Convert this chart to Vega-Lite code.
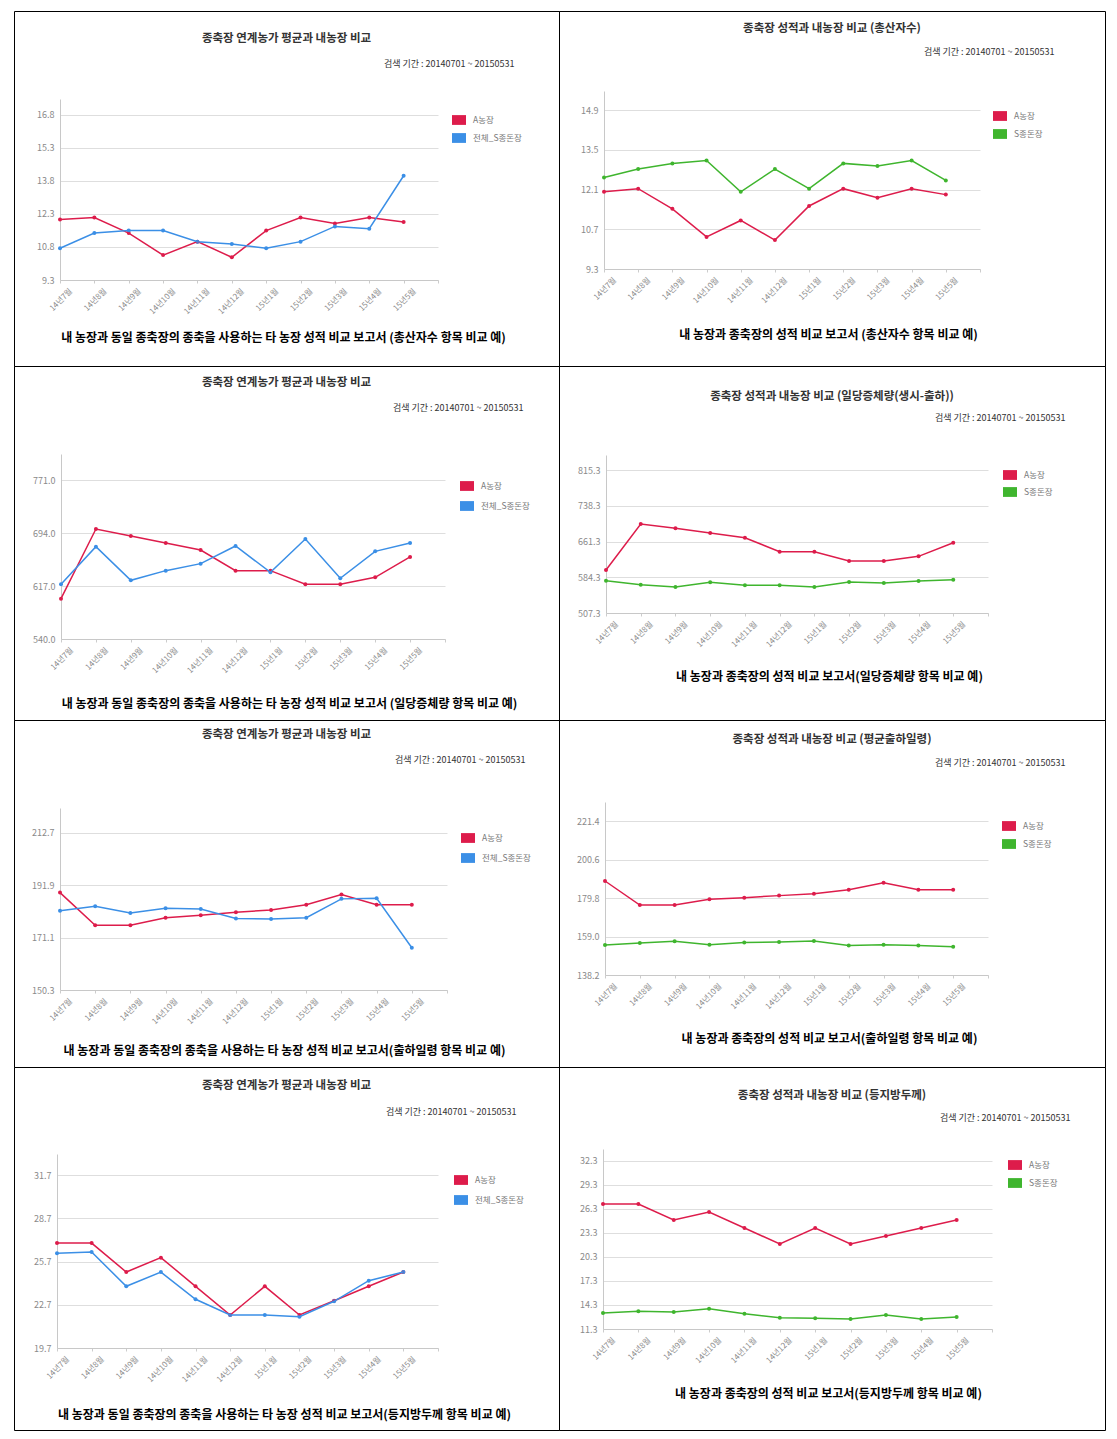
{
"$schema": "https://vega.github.io/schema/vega-lite/v6.json",
"padding": {"left": 13, "top": 10, "right": 0, "bottom": 0},
"background": "white",
"bounds": "flush",
"spacing": 0,
"columns": 2,
"resolve": {"scale": {"color": "independent", "x": "independent", "y": "independent"}, "legend": {"color": "independent"}},
"config": {
  "font": "Noto Sans CJK KR",
  "view": {"stroke": "#000000", "strokeWidth": 1},
  "title": {"fontSize": 11.5, "fontWeight": "bold", "color": "#333333", "anchor": "middle", "frame": "group"},
  "axis": {"domainColor": "#c8c8c8", "gridColor": "#dedede", "labelColor": "#8a8a8a", "labelFont": "Noto Sans CJK KR", "titleFont": "Noto Sans CJK KR"},
  "axisX": {"labelAngle": -45, "labelFontSize": 8, "labelOffset": 8, "labelPadding": 4, "tickColor": "#cccccc", "tickSize": 3, "grid": false, "labelOverlap": false, "titleFontSize": 12, "titleFontWeight": "bold", "titleColor": "#000000", "titleAngle": 0, "titleAlign": "center", "titleBaseline": "middle"},
  "axisY": {"labelFontSize": 9, "ticks": false, "labelPadding": 6, "titleFontSize": 9, "titleFontWeight": "normal", "titleColor": "#333333", "titleAngle": 0, "titleAlign": "right", "titleBaseline": "middle"},
  "legend": {"symbolType": "M-1,-0.7H1V0.7H-1Z", "symbolSize": 196, "symbolStrokeWidth": 0, "labelFontSize": 8.5, "labelColor": "#777777", "labelOffset": 7, "padding": 0}
},
"datasets": {
  "p1": [
    {"m":"14년7월","s":"A농장","v":12.04},{"m":"14년8월","s":"A농장","v":12.13},{"m":"14년9월","s":"A농장","v":11.43},{"m":"14년10월","s":"A농장","v":10.43},{"m":"14년11월","s":"A농장","v":11.04},{"m":"14년12월","s":"A농장","v":10.33},{"m":"15년1월","s":"A농장","v":11.54},{"m":"15년2월","s":"A농장","v":12.13},{"m":"15년3월","s":"A농장","v":11.86},{"m":"15년4월","s":"A농장","v":12.13},{"m":"15년5월","s":"A농장","v":11.93},
    {"m":"14년7월","s":"전체_S종돈장","v":10.74},{"m":"14년8월","s":"전체_S종돈장","v":11.43},{"m":"14년9월","s":"전체_S종돈장","v":11.54},{"m":"14년10월","s":"전체_S종돈장","v":11.54},{"m":"14년11월","s":"전체_S종돈장","v":11.04},{"m":"14년12월","s":"전체_S종돈장","v":10.93},{"m":"15년1월","s":"전체_S종돈장","v":10.74},{"m":"15년2월","s":"전체_S종돈장","v":11.04},{"m":"15년3월","s":"전체_S종돈장","v":11.73},{"m":"15년4월","s":"전체_S종돈장","v":11.63},{"m":"15년5월","s":"전체_S종돈장","v":14.03}
  ],
  "p2": [
    {"m":"14년7월","s":"A농장","v":12.02},{"m":"14년8월","s":"A농장","v":12.13},{"m":"14년9월","s":"A농장","v":11.42},{"m":"14년10월","s":"A농장","v":10.43},{"m":"14년11월","s":"A농장","v":11.01},{"m":"14년12월","s":"A농장","v":10.32},{"m":"15년1월","s":"A농장","v":11.52},{"m":"15년2월","s":"A농장","v":12.13},{"m":"15년3월","s":"A농장","v":11.81},{"m":"15년4월","s":"A농장","v":12.13},{"m":"15년5월","s":"A농장","v":11.92},
    {"m":"14년7월","s":"S종돈장","v":12.52},{"m":"14년8월","s":"S종돈장","v":12.82},{"m":"14년9월","s":"S종돈장","v":13.02},{"m":"14년10월","s":"S종돈장","v":13.12},{"m":"14년11월","s":"S종돈장","v":12.02},{"m":"14년12월","s":"S종돈장","v":12.82},{"m":"15년1월","s":"S종돈장","v":12.13},{"m":"15년2월","s":"S종돈장","v":13.02},{"m":"15년3월","s":"S종돈장","v":12.93},{"m":"15년4월","s":"S종돈장","v":13.12},{"m":"15년5월","s":"S종돈장","v":12.42}
  ],
  "p3": [
    {"m":"14년7월","s":"A농장","v":598.7},{"m":"14년8월","s":"A농장","v":700.1},{"m":"14년9월","s":"A농장","v":689.9},{"m":"14년10월","s":"A농장","v":679.7},{"m":"14년11월","s":"A농장","v":669.5},{"m":"14년12월","s":"A농장","v":639.5},{"m":"15년1월","s":"A농장","v":639.5},{"m":"15년2월","s":"A농장","v":619.6},{"m":"15년3월","s":"A농장","v":619.6},{"m":"15년4월","s":"A농장","v":629.8},{"m":"15년5월","s":"A농장","v":659.4},
    {"m":"14년7월","s":"전체_S종돈장","v":619.6},{"m":"14년8월","s":"전체_S종돈장","v":674.4},{"m":"14년9월","s":"전체_S종돈장","v":625.4},{"m":"14년10월","s":"전체_S종돈장","v":639.5},{"m":"14년11월","s":"전체_S종돈장","v":649.7},{"m":"14년12월","s":"전체_S종돈장","v":675.4},{"m":"15년1월","s":"전체_S종돈장","v":637.0},{"m":"15년2월","s":"전체_S종돈장","v":685.6},{"m":"15년3월","s":"전체_S종돈장","v":628.3},{"m":"15년4월","s":"전체_S종돈장","v":667.6},{"m":"15년5월","s":"전체_S종돈장","v":679.7}
  ],
  "p4": [
    {"m":"14년7월","s":"A농장","v":600.1},{"m":"14년8월","s":"A농장","v":699.4},{"m":"14년9월","s":"A농장","v":690.1},{"m":"14년10월","s":"A농장","v":680.0},{"m":"14년11월","s":"A농장","v":669.9},{"m":"14년12월","s":"A농장","v":639.7},{"m":"15년1월","s":"A농장","v":639.7},{"m":"15년2월","s":"A농장","v":619.6},{"m":"15년3월","s":"A농장","v":619.6},{"m":"15년4월","s":"A농장","v":629.6},{"m":"15년5월","s":"A농장","v":659.1},
    {"m":"14년7월","s":"S종돈장","v":577.1},{"m":"14년8월","s":"S종돈장","v":568.5},{"m":"14년9월","s":"S종돈장","v":563.4},{"m":"14년10월","s":"S종돈장","v":573.5},{"m":"14년11월","s":"S종돈장","v":567.0},{"m":"14년12월","s":"S종돈장","v":567.0},{"m":"15년1월","s":"S종돈장","v":563.4},{"m":"15년2월","s":"S종돈장","v":574.2},{"m":"15년3월","s":"S종돈장","v":572.1},{"m":"15년4월","s":"S종돈장","v":576.4},{"m":"15년5월","s":"S종돈장","v":579.3}
  ],
  "p5": [
    {"m":"14년7월","s":"A농장","v":189.0},{"m":"14년8월","s":"A농장","v":176.0},{"m":"14년9월","s":"A농장","v":176.0},{"m":"14년10월","s":"A농장","v":179.0},{"m":"14년11월","s":"A농장","v":180.0},{"m":"14년12월","s":"A농장","v":181.2},{"m":"15년1월","s":"A농장","v":182.1},{"m":"15년2월","s":"A농장","v":184.2},{"m":"15년3월","s":"A농장","v":188.2},{"m":"15년4월","s":"A농장","v":184.2},{"m":"15년5월","s":"A농장","v":184.2},
    {"m":"14년7월","s":"전체_S종돈장","v":181.8},{"m":"14년8월","s":"전체_S종돈장","v":183.6},{"m":"14년9월","s":"전체_S종돈장","v":180.9},{"m":"14년10월","s":"전체_S종돈장","v":182.8},{"m":"14년11월","s":"전체_S종돈장","v":182.5},{"m":"14년12월","s":"전체_S종돈장","v":178.7},{"m":"15년1월","s":"전체_S종돈장","v":178.5},{"m":"15년2월","s":"전체_S종돈장","v":179.0},{"m":"15년3월","s":"전체_S종돈장","v":186.5},{"m":"15년4월","s":"전체_S종돈장","v":186.7},{"m":"15년5월","s":"전체_S종돈장","v":167.1}
  ],
  "p6": [
    {"m":"14년7월","s":"A농장","v":189.0},{"m":"14년8월","s":"A농장","v":176.0},{"m":"14년9월","s":"A농장","v":176.0},{"m":"14년10월","s":"A농장","v":179.1},{"m":"14년11월","s":"A농장","v":180.0},{"m":"14년12월","s":"A농장","v":181.1},{"m":"15년1월","s":"A농장","v":182.1},{"m":"15년2월","s":"A농장","v":184.3},{"m":"15년3월","s":"A농장","v":188.1},{"m":"15년4월","s":"A농장","v":184.3},{"m":"15년5월","s":"A농장","v":184.3},
    {"m":"14년7월","s":"S종돈장","v":154.4},{"m":"14년8월","s":"S종돈장","v":155.5},{"m":"14년9월","s":"S종돈장","v":156.4},{"m":"14년10월","s":"S종돈장","v":154.6},{"m":"14년11월","s":"S종돈장","v":155.8},{"m":"14년12월","s":"S종돈장","v":156.0},{"m":"15년1월","s":"S종돈장","v":156.6},{"m":"15년2월","s":"S종돈장","v":154.2},{"m":"15년3월","s":"S종돈장","v":154.6},{"m":"15년4월","s":"S종돈장","v":154.2},{"m":"15년5월","s":"S종돈장","v":153.5}
  ],
  "p7": [
    {"m":"14년7월","s":"A농장","v":26.98},{"m":"14년8월","s":"A농장","v":26.98},{"m":"14년9월","s":"A농장","v":24.97},{"m":"14년10월","s":"A농장","v":25.97},{"m":"14년11월","s":"A농장","v":23.98},{"m":"14년12월","s":"A농장","v":21.99},{"m":"15년1월","s":"A농장","v":23.98},{"m":"15년2월","s":"A농장","v":21.99},{"m":"15년3월","s":"A농장","v":22.98},{"m":"15년4월","s":"A농장","v":23.98},{"m":"15년5월","s":"A농장","v":24.97},
    {"m":"14년7월","s":"전체_S종돈장","v":26.27},{"m":"14년8월","s":"전체_S종돈장","v":26.36},{"m":"14년9월","s":"전체_S종돈장","v":23.98},{"m":"14년10월","s":"전체_S종돈장","v":24.97},{"m":"14년11월","s":"전체_S종돈장","v":23.08},{"m":"14년12월","s":"전체_S종돈장","v":21.99},{"m":"15년1월","s":"전체_S종돈장","v":21.99},{"m":"15년2월","s":"전체_S종돈장","v":21.87},{"m":"15년3월","s":"전체_S종돈장","v":22.94},{"m":"15년4월","s":"전체_S종돈장","v":24.37},{"m":"15년5월","s":"전체_S종돈장","v":24.97}
  ],
  "p8": [
    {"m":"14년7월","s":"A농장","v":26.89},{"m":"14년8월","s":"A농장","v":26.89},{"m":"14년9월","s":"A농장","v":24.9},{"m":"14년10월","s":"A농장","v":25.89},{"m":"14년11월","s":"A농장","v":23.9},{"m":"14년12월","s":"A농장","v":21.9},{"m":"15년1월","s":"A농장","v":23.9},{"m":"15년2월","s":"A농장","v":21.9},{"m":"15년3월","s":"A농장","v":22.9},{"m":"15년4월","s":"A농장","v":23.9},{"m":"15년5월","s":"A농장","v":24.9},
    {"m":"14년7월","s":"S종돈장","v":13.3},{"m":"14년8월","s":"S종돈장","v":13.5},{"m":"14년9월","s":"S종돈장","v":13.42},{"m":"14년10월","s":"S종돈장","v":13.84},{"m":"14년11월","s":"S종돈장","v":13.21},{"m":"14년12월","s":"S종돈장","v":12.71},{"m":"15년1월","s":"S종돈장","v":12.63},{"m":"15년2월","s":"S종돈장","v":12.55},{"m":"15년3월","s":"S종돈장","v":13.05},{"m":"15년4월","s":"S종돈장","v":12.55},{"m":"15년5월","s":"S종돈장","v":12.8}
  ]
},
"concat": [
  {"width": 545, "height": 355, "data": {"name": "p1"},
   "title": {"text": "종축장 연계농가 평균과 내농장 비교", "offset": -33},
   "encoding": {
     "x": {"field": "m", "type": "ordinal", "sort": null, "scale": {"type": "point", "domain": ["14년7월","14년8월","14년9월","14년10월","14년11월","14년12월","15년1월","15년2월","15년3월","15년4월","15년5월"," "], "range": [46, 424], "padding": 0},
       "axis": {"offset": -86, "title": "내 농장과 동일 종축장의 종축을 사용하는 타 농장 성적 비교 보고서 (총산자수 항목 비교 예)", "titleX": 269, "titleY": 57}},
     "y": {"field": "v", "type": "quantitative", "scale": {"domain": [9.3, 17.51], "range": [269, 88], "zero": false, "nice": false},
       "axis": {"offset": -46, "values": [9.3, 10.8, 12.3, 13.8, 15.3, 16.8], "format": ".1f", "title": "검색 기간 : 20140701 ~ 20150531", "titleX": 454, "titleY": 52}},
     "color": {"field": "s", "type": "nominal", "scale": {"domain": ["A농장", "전체_S종돈장"], "range": ["#dd1c4b", "#3b8fe6"]}, "legend": {"title": null, "orient": "none", "legendX": 438, "legendY": 102, "rowPadding": 6}},
     "order": {"value": null}},
   "layer": [
     {"mark": {"type": "point", "filled": true, "size": 16, "opacity": 1}},
     {"mark": {"type": "line", "strokeWidth": 1.5}}
   ]},
  {"width": 546, "height": 355, "data": {"name": "p2"},
   "title": {"text": "종축장 성적과 내농장 비교 (총산자수)", "offset": -23},
   "encoding": {
     "x": {"field": "m", "type": "ordinal", "sort": null, "scale": {"type": "point", "domain": ["14년7월","14년8월","14년9월","14년10월","14년11월","14년12월","15년1월","15년2월","15년3월","15년4월","15년5월"," "], "range": [45, 421], "padding": 0},
       "axis": {"offset": -97, "title": "내 농장과 종축장의 성적 비교 보고서 (총산자수 항목 비교 예)", "titleX": 269, "titleY": 65}},
     "y": {"field": "v", "type": "quantitative", "scale": {"domain": [9.3, 15.57], "range": [258, 80], "zero": false, "nice": false},
       "axis": {"offset": -45, "values": [9.3, 10.7, 12.1, 13.5, 14.9], "format": ".1f", "title": "검색 기간 : 20140701 ~ 20150531", "titleX": 450, "titleY": 40}},
     "color": {"field": "s", "type": "nominal", "scale": {"domain": ["A농장", "S종돈장"], "range": ["#dd1c4b", "#3fb52e"]}, "legend": {"title": null, "orient": "none", "legendX": 434, "legendY": 98, "rowPadding": 6}},
     "order": {"value": null}},
   "layer": [
     {"mark": {"type": "point", "filled": true, "size": 16, "opacity": 1}},
     {"mark": {"type": "line", "strokeWidth": 1.5}}
   ]},
  {"width": 545, "height": 354, "data": {"name": "p3"},
   "title": {"text": "종축장 연계농가 평균과 내농장 비교", "offset": -22},
   "encoding": {
     "x": {"field": "m", "type": "ordinal", "sort": null, "scale": {"type": "point", "domain": ["14년7월","14년8월","14년9월","14년10월","14년11월","14년12월","15년1월","15년2월","15년3월","15년4월","15년5월"," "], "range": [47, 431], "padding": 0},
       "axis": {"offset": -81, "title": "내 농장과 동일 종축장의 종축을 사용하는 타 농장 성적 비교 보고서 (일당증체량 항목 비교 예)", "titleX": 275, "titleY": 64}},
     "y": {"field": "v", "type": "quantitative", "scale": {"domain": [540, 809.3], "range": [273, 88], "zero": false, "nice": false},
       "axis": {"offset": -47, "values": [540, 617, 694, 771], "format": ".1f", "title": "검색 기간 : 20140701 ~ 20150531", "titleX": 462, "titleY": 41}},
     "color": {"field": "s", "type": "nominal", "scale": {"domain": ["A농장", "전체_S종돈장"], "range": ["#dd1c4b", "#3b8fe6"]}, "legend": {"title": null, "orient": "none", "legendX": 446, "legendY": 113, "rowPadding": 8}},
     "order": {"value": null}},
   "layer": [
     {"mark": {"type": "point", "filled": true, "size": 16, "opacity": 1}},
     {"mark": {"type": "line", "strokeWidth": 1.5}}
   ]},
  {"width": 546, "height": 354, "data": {"name": "p4"},
   "title": {"text": "종축장 성적과 내농장 비교 (일당증체량(생시-출하))", "offset": -36},
   "encoding": {
     "x": {"field": "m", "type": "ordinal", "sort": null, "scale": {"type": "point", "domain": ["14년7월","14년8월","14년9월","14년10월","14년11월","14년12월","15년1월","15년2월","15년3월","15년4월","15년5월"," "], "range": [47, 429], "padding": 0},
       "axis": {"offset": -107, "title": "내 농장과 종축장의 성적 비교 보고서(일당증체량 항목 비교 예)", "titleX": 270, "titleY": 63}},
     "y": {"field": "v", "type": "quantitative", "scale": {"domain": [507.3, 848.4], "range": [247, 89], "zero": false, "nice": false},
       "axis": {"offset": -47, "values": [507.3, 584.3, 661.3, 738.3, 815.3], "format": ".1f", "title": "검색 기간 : 20140701 ~ 20150531", "titleX": 459, "titleY": 51}},
     "color": {"field": "s", "type": "nominal", "scale": {"domain": ["A농장", "S종돈장"], "range": ["#dd1c4b", "#3fb52e"]}, "legend": {"title": null, "orient": "none", "legendX": 444, "legendY": 102, "rowPadding": 5}},
     "order": {"value": null}},
   "layer": [
     {"mark": {"type": "point", "filled": true, "size": 16, "opacity": 1}},
     {"mark": {"type": "line", "strokeWidth": 1.5}}
   ]},
  {"width": 545, "height": 347, "data": {"name": "p5"},
   "title": {"text": "종축장 연계농가 평균과 내농장 비교", "offset": -20},
   "encoding": {
     "x": {"field": "m", "type": "ordinal", "sort": null, "scale": {"type": "point", "domain": ["14년7월","14년8월","14년9월","14년10월","14년11월","14년12월","15년1월","15년2월","15년3월","15년4월","15년5월"," "], "range": [46, 433], "padding": 0},
       "axis": {"offset": -77, "title": "내 농장과 동일 종축장의 종축을 사용하는 타 농장 성적 비교 보고서(출하일령 항목 비교 예)", "titleX": 270, "titleY": 60}},
     "y": {"field": "v", "type": "quantitative", "scale": {"domain": [150.3, 222.6], "range": [270, 88], "zero": false, "nice": false},
       "axis": {"offset": -46, "values": [150.3, 171.1, 191.9, 212.7], "format": ".1f", "title": "검색 기간 : 20140701 ~ 20150531", "titleX": 465, "titleY": 39}},
     "color": {"field": "s", "type": "nominal", "scale": {"domain": ["A농장", "전체_S종돈장"], "range": ["#dd1c4b", "#3b8fe6"]}, "legend": {"title": null, "orient": "none", "legendX": 447, "legendY": 111, "rowPadding": 8}},
     "order": {"value": null}},
   "layer": [
     {"mark": {"type": "point", "filled": true, "size": 16, "opacity": 1}},
     {"mark": {"type": "line", "strokeWidth": 1.5}}
   ]},
  {"width": 546, "height": 347, "data": {"name": "p6"},
   "title": {"text": "종축장 성적과 내농장 비교 (평균출하일령)", "offset": -25},
   "encoding": {
     "x": {"field": "m", "type": "ordinal", "sort": null, "scale": {"type": "point", "domain": ["14년7월","14년8월","14년9월","14년10월","14년11월","14년12월","15년1월","15년2월","15년3월","15년4월","15년5월"," "], "range": [46, 429], "padding": 0},
       "axis": {"offset": -92, "title": "내 농장과 종축장의 성적 비교 보고서(출하일령 항목 비교 예)", "titleX": 270, "titleY": 63}},
     "y": {"field": "v", "type": "quantitative", "scale": {"domain": [138.2, 231.7], "range": [255, 82], "zero": false, "nice": false},
       "axis": {"offset": -46, "values": [138.2, 159.0, 179.8, 200.6, 221.4], "format": ".1f", "title": "검색 기간 : 20140701 ~ 20150531", "titleX": 460, "titleY": 42}},
     "color": {"field": "s", "type": "nominal", "scale": {"domain": ["A농장", "S종돈장"], "range": ["#dd1c4b", "#3fb52e"]}, "legend": {"title": null, "orient": "none", "legendX": 443, "legendY": 99, "rowPadding": 6}},
     "order": {"value": null}},
   "layer": [
     {"mark": {"type": "point", "filled": true, "size": 16, "opacity": 1}},
     {"mark": {"type": "line", "strokeWidth": 1.5}}
   ]},
  {"width": 545, "height": 363, "data": {"name": "p7"},
   "title": {"text": "종축장 연계농가 평균과 내농장 비교", "offset": -24},
   "encoding": {
     "x": {"field": "m", "type": "ordinal", "sort": null, "scale": {"type": "point", "domain": ["14년7월","14년8월","14년9월","14년10월","14년11월","14년12월","15년1월","15년2월","15년3월","15년4월","15년5월"," "], "range": [43, 424], "padding": 0},
       "axis": {"offset": -82, "title": "내 농장과 동일 종축장의 종축을 사용하는 타 농장 성적 비교 보고서(등지방두께 항목 비교 예)", "titleX": 270, "titleY": 66}},
     "y": {"field": "v", "type": "quantitative", "scale": {"domain": [19.7, 33.16], "range": [281, 87], "zero": false, "nice": false},
       "axis": {"offset": -43, "values": [19.7, 22.7, 25.7, 28.7, 31.7], "format": ".1f", "title": "검색 기간 : 20140701 ~ 20150531", "titleX": 459, "titleY": 44}},
     "color": {"field": "s", "type": "nominal", "scale": {"domain": ["A농장", "전체_S종돈장"], "range": ["#dd1c4b", "#3b8fe6"]}, "legend": {"title": null, "orient": "none", "legendX": 440, "legendY": 106, "rowPadding": 8}},
     "order": {"value": null}},
   "layer": [
     {"mark": {"type": "point", "filled": true, "size": 16, "opacity": 1}},
     {"mark": {"type": "line", "strokeWidth": 1.5}}
   ]},
  {"width": 546, "height": 363, "data": {"name": "p8"},
   "title": {"text": "종축장 성적과 내농장 비교 (등지방두께)", "offset": -34},
   "encoding": {
     "x": {"field": "m", "type": "ordinal", "sort": null, "scale": {"type": "point", "domain": ["14년7월","14년8월","14년9월","14년10월","14년11월","14년12월","15년1월","15년2월","15년3월","15년4월","15년5월"," "], "range": [44, 433], "padding": 0},
       "axis": {"offset": -101, "title": "내 농장과 종축장의 성적 비교 보고서(등지방두께 항목 비교 예)", "titleX": 269, "titleY": 64}},
     "y": {"field": "v", "type": "quantitative", "scale": {"domain": [11.3, 33.75], "range": [262, 82], "zero": false, "nice": false},
       "axis": {"offset": -44, "values": [11.3, 14.3, 17.3, 20.3, 23.3, 26.3, 29.3, 32.3], "format": ".1f", "title": "검색 기간 : 20140701 ~ 20150531", "titleX": 467, "titleY": 50}},
     "color": {"field": "s", "type": "nominal", "scale": {"domain": ["A농장", "S종돈장"], "range": ["#dd1c4b", "#3fb52e"]}, "legend": {"title": null, "orient": "none", "legendX": 449, "legendY": 91, "rowPadding": 6}},
     "order": {"value": null}},
   "layer": [
     {"mark": {"type": "point", "filled": true, "size": 16, "opacity": 1}},
     {"mark": {"type": "line", "strokeWidth": 1.5}}
   ]}
]
}
